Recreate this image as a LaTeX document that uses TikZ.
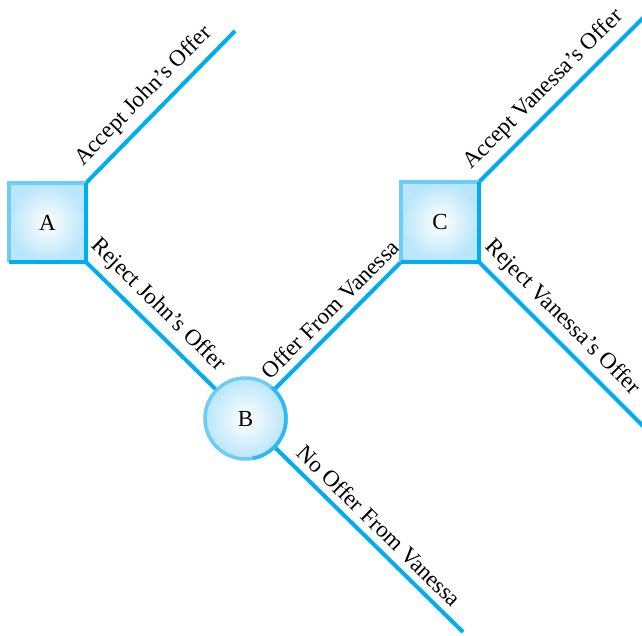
\documentclass[tikz,border=0pt]{standalone}
\usepackage{fontspec}
\setmainfont{Liberation Serif}
\usetikzlibrary{calc}
\definecolor{lineblue}{RGB}{0,174,239}
\definecolor{lightblue}{RGB}{110,205,245}
\definecolor{midblue}{RGB}{45,185,242}
\definecolor{paleblue}{RGB}{185,230,250}
\tikzset{
  branch/.style={draw=lineblue, line width=4pt},
  lab/.style={sloped, above, inner sep=7pt, font=\fontsize{23}{27}\selectfont},
  decbox/.style={rectangle, minimum width=77pt, minimum height=79pt, inner color=white, outer color=paleblue, font=\fontsize{23}{27}\selectfont},
  chance/.style={circle, minimum size=81pt, inner color=white, outer color=paleblue, draw=lightblue, line width=3.5pt, font=\fontsize{23}{27}\selectfont},
  lightedge/.style={draw=lightblue, line width=4pt, line cap=square},
  darkedge/.style={draw=lineblue, line width=4pt, line cap=square}
}
\begin{document}
\begin{tikzpicture}[x=1pt,y=1pt]
\useasboundingbox (0,0) rectangle (642,-635);
\clip (0,0) rectangle (642,-635);
\fill[white] (0,0) rectangle (642,-635);
% nodes
\node[decbox] (A) at (47.5,-222.5) {A};
\node[chance] (B) at (245.5,-418.5) {B};
\node[decbox] (C) at (440,-222) {C};
\coordinate (a1) at (235,-31);
\coordinate (b1) at (463,-632);
\coordinate (c1) at (650,-11);
\coordinate (c2) at (678,-461);
% branches
\draw[branch] (A.north east) -- (a1) node[lab, pos=0.48] {Accept John's Offer};
\draw[branch] (A.south east) -- (B) node[lab, pos=0.45] {Reject John's Offer};
\draw[branch] (B) -- (C.south west) node[lab, pos=0.53] {Offer From Vanessa};
\draw[branch] (B) -- (b1) node[lab, pos=0.49] {No Offer From Vanessa};
\draw[branch] (C.north east) -- (c1) node[lab, pos=0.46] {Accept Vanessa's Offer};
\draw[branch] (C.south east) -- (c2) node[lab, pos=0.35] {Reject Vanessa's Offer};
% bevelled borders
\draw[lightedge] (A.south west) -- (A.north west) -- (A.north east);
\draw[darkedge] (A.north east) -- (A.south east) -- (A.south west);
\draw[lightedge] (C.south west) -- (C.north west) -- (C.north east);
\draw[darkedge] (C.north east) -- (C.south east) -- (C.south west);
\draw[midblue, line width=3.5pt] ($(B.center)+(50:40.5)$) arc[start angle=50, end angle=-80, radius=40.5pt];
\end{tikzpicture}
\end{document}
